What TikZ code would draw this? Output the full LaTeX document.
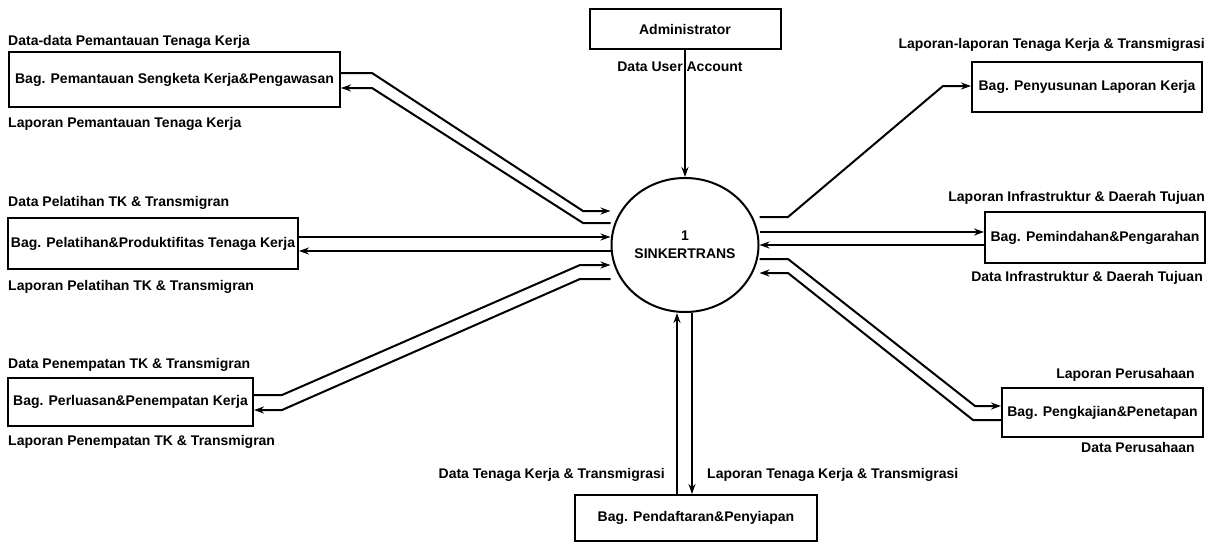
\documentclass[tikz,border=0pt]{standalone}
\usepackage{fontspec}
\setmainfont{Liberation Sans}
\usetikzlibrary{shapes.geometric,arrows.meta}
\begin{document}
\begin{tikzpicture}[x=1pt,y=-1pt,
  every node/.style={font=\fontsize{14}{16}\selectfont\bfseries},
  entity/.style={draw,line width=2pt,rectangle,inner sep=0pt},
  proc/.style={draw,line width=2pt,ellipse,inner sep=0pt,minimum width=147pt,minimum height=134pt,align=center},
  lbl/.style={inner sep=0pt},
  flow/.style={draw,line width=2pt,-{Stealth[length=10pt,width=7pt]}}]
\useasboundingbox (0,0) rectangle (1214,546);
% process
\node[proc] (c) at (685,245) {1\\[2pt]SINKERTRANS};
% entities
\node[entity,minimum width=331pt,minimum height=55pt] (b1) at (174.5,79.5) {Bag. Pemantauan Sengketa Kerja\&Pengawasan};
\node[entity,minimum width=290pt,minimum height=51pt] (b2) at (153,243.5) {Bag. Pelatihan\&Produktifitas Tenaga Kerja};
\node[entity,minimum width=245pt,minimum height=48pt] (b3) at (130.5,402) {Bag. Perluasan\&Penempatan Kerja};
\node[entity,minimum width=191pt,minimum height=40pt] (adm) at (685,29) {Administrator};
\node[entity,minimum width=230pt,minimum height=50pt] (b4) at (1087,87) {Bag. Penyusunan Laporan Kerja};
\node[entity,minimum width=220pt,minimum height=51pt] (b5) at (1095,237.5) {Bag. Pemindahan\&Pengarahan};
\node[entity,minimum width=201pt,minimum height=49pt] (b6) at (1102.5,412.5) {Bag. Pengkajian\&Penetapan};
\node[entity,minimum width=242pt,minimum height=46pt] (b7) at (696,518) {Bag. Pendaftaran\&Penyiapan};
% labels
\node[lbl,anchor=west] (l1a) at (8,42) {Data-data Pemantauan Tenaga Kerja};
\node[lbl,anchor=west] (l1b) at (8,124) {Laporan Pemantauan Tenaga Kerja};
\node[lbl,anchor=west] (l2a) at (8,203) {Data Pelatihan TK \& Transmigran};
\node[lbl,anchor=west] (l2b) at (8,287) {Laporan Pelatihan TK \& Transmigran};
\node[lbl,anchor=west] (l3a) at (8,365) {Data Penempatan TK \& Transmigran};
\node[lbl,anchor=west] (l3b) at (8,442) {Laporan Penempatan TK \& Transmigran};
\node[lbl] (lu) at (680,67) {Data User Account};
\node[lbl,anchor=east] (l4) at (1205,45) {Laporan-laporan Tenaga Kerja \& Transmigrasi};
\node[lbl,anchor=east] (l5a) at (1205,198) {Laporan Infrastruktur \& Daerah Tujuan};
\node[lbl,anchor=east] (l5b) at (1203,278) {Data Infrastruktur \& Daerah Tujuan};
\node[lbl,anchor=east] (l6a) at (1195,375) {Laporan Perusahaan};
\node[lbl,anchor=east] (l6b) at (1195,447) {Data Perusahaan};
\node[lbl,anchor=east] (l7a) at (665,475) {Data Tenaga Kerja \& Transmigrasi};
\node[lbl,anchor=west] (l7b) at (707,475) {Laporan Tenaga Kerja \& Transmigrasi};
% flows left
\draw[flow] (b1.east|-0,73) -- (372,73) -- (583,211) -- (c.west|-0,211);
\draw[flow] (c.west|-0,223) -- (583,223) -- (372,88) -- (b1.east|-0,88);
\draw[flow] (b2.east|-0,237) -- (c.west|-0,237);
\draw[flow] (c.west|-0,251) -- (b2.east|-0,251);
\draw[flow] (b3.east|-0,395) -- (282,395) -- (580,265) -- (c.west|-0,265);
\draw[flow] (c.west|-0,279) -- (580,279) -- (282,410) -- (b3.east|-0,410);
% admin
\draw[flow] (adm.south) -- (c.north);
% flows right
\draw[flow] (c.east|-0,217) -- (788,217) -- (943,86) -- (b4.west|-0,86);
\draw[flow] (c.east|-0,232) -- (b5.west|-0,232);
\draw[flow] (b5.west|-0,245) -- (c.east|-0,245);
\draw[flow] (c.east|-0,259) -- (788,259) -- (975,406) -- (b6.west|-0,406);
\draw[flow] (b6.west|-0,420) -- (973,420) -- (788,273) -- (c.east|-0,273);
% bottom
\draw[flow] (b7.north-|677,0) -- (c.south-|677,0);
\draw[flow] (c.south-|692,0) -- (b7.north-|692,0);
\end{tikzpicture}
\end{document}
